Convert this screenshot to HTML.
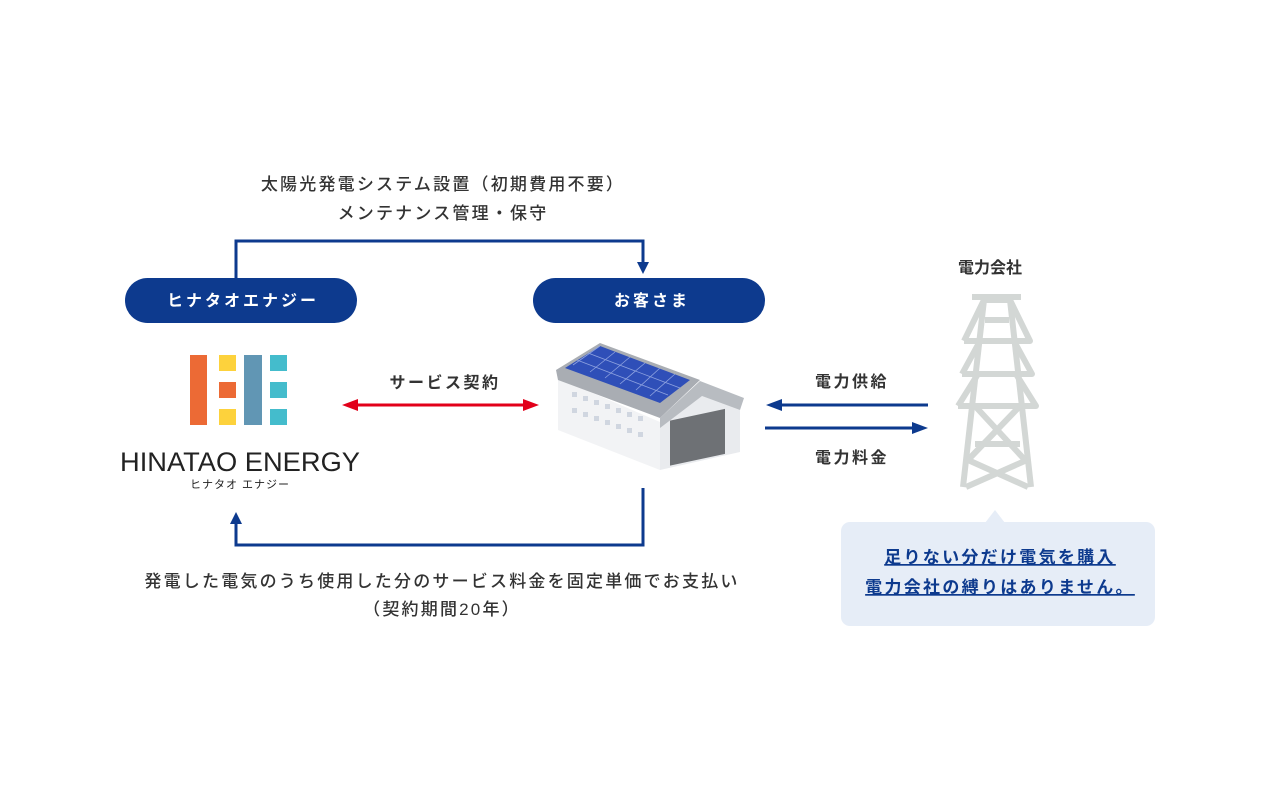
<!DOCTYPE html>
<html><head><meta charset="utf-8"><style>
body{margin:0;background:#fff;}
svg text{font-family:"Liberation Sans","Noto Sans CJK JP",sans-serif;}
</style></head><body>
<svg width="1280" height="800" viewBox="0 0 1280 800" xmlns="http://www.w3.org/2000/svg">
<rect width="1280" height="800" fill="#fff"/>
<g fill="#333" font-size="17" text-anchor="middle" font-weight="500" letter-spacing="2.2">
<text x="443" y="190">太陽光発電システム設置（初期費用不要）</text>
<text x="443" y="219">メンテナンス管理・保守</text>
<text x="442" y="587">発電した電気のうち使用した分のサービス料金を固定単価でお支払い</text>
<text x="442" y="615">（契約期間20年）</text>
</g>
<g fill="none" stroke="#0d3a8e" stroke-width="3">
<polyline points="236,278 236,241 643,241 643,262"/>
<polyline points="643,488 643,545 236,545 236,522"/>
<line x1="928" y1="405" x2="780" y2="405"/>
<line x1="765" y1="428" x2="914" y2="428"/>
</g>
<g fill="#0d3a8e">
<polygon points="637,262 649,262 643,274"/>
<polygon points="230,524 242,524 236,512"/>
<polygon points="766,405 782,399 782,411"/>
<polygon points="928,428 912,422 912,434"/>
</g>
<line x1="355" y1="405" x2="526" y2="405" stroke="#e2001a" stroke-width="3"/>
<polygon points="342,405 358,399 358,411" fill="#e2001a"/>
<polygon points="539,405 523,399 523,411" fill="#e2001a"/>
<rect x="125" y="278" width="232" height="45" rx="22.5" fill="#0d3a8e"/>
<rect x="533" y="278" width="232" height="45" rx="22.5" fill="#0d3a8e"/>
<g fill="#fff" font-size="16" font-weight="bold" text-anchor="middle" letter-spacing="3">
<text x="243" y="306">ヒナタオエナジー</text>
<text x="652" y="306">お客さま</text>
</g>
<g fill="#333" font-size="16" font-weight="bold" text-anchor="middle" letter-spacing="2.5">
<text x="445" y="388">サービス契約</text>
<text x="852" y="387">電力供給</text>
<text x="852" y="463">電力料金</text>
</g>
<text x="990" y="273" fill="#333" font-size="16" font-weight="bold" text-anchor="middle">電力会社</text>
<!-- logo -->
<rect x="190" y="355" width="17" height="70" fill="#ec6a35"/>
<rect x="219" y="355" width="17" height="16" fill="#fdd23c"/>
<rect x="219" y="382" width="17" height="16" fill="#ec6a35"/>
<rect x="219" y="409" width="17" height="16" fill="#fdd23c"/>
<rect x="244" y="355" width="18" height="70" fill="#6196b4"/>
<rect x="270" y="355" width="17" height="16" fill="#44bccc"/>
<rect x="270" y="382" width="17" height="16" fill="#44bccc"/>
<rect x="270" y="409" width="17" height="16" fill="#44bccc"/>
<text x="240" y="471" font-size="27" text-anchor="middle" fill="#222" font-weight="300" textLength="240" lengthAdjust="spacingAndGlyphs">HINATAO ENERGY</text>
<text x="240" y="488" font-size="11" text-anchor="middle" fill="#222" letter-spacing="1">ヒナタオ エナジー</text>
<!-- building -->
<g>
<polygon points="558,378 660,422 660,470 558,430" fill="#f2f3f5"/>
<polygon points="660,422 702,396 740,410 740,452 660,470" fill="#e9ebee"/>
<polygon points="556,370 600,343 700,380 660,418 558,380" fill="#a9adb3"/>
<polygon points="565,368 600,346 690,380 660,403" fill="#2f4fb8"/>
<g stroke="#8fa3e0" stroke-width="0.8">
<line x1="577" y1="360" x2="668" y2="395"/><line x1="588" y1="353" x2="680" y2="388"/>
<line x1="600" y1="346" x2="573" y2="365"/><line x1="615" y1="352" x2="590" y2="372"/>
<line x1="630" y1="357" x2="605" y2="378"/><line x1="645" y1="363" x2="620" y2="384"/>
<line x1="660" y1="368" x2="636" y2="390"/><line x1="675" y1="374" x2="650" y2="396"/>
</g>
<polygon points="660,418 700,381 744,398 740,410 702,396 660,428" fill="#b8bcc1"/>
<rect x="670" y="420" width="55" height="45" fill="#6e7175" transform="skewY(-12) translate(0,143)"/>
<g fill="#d0d6e0">
<rect x="572" y="392" width="5" height="5"/><rect x="583" y="396" width="5" height="5"/><rect x="594" y="400" width="5" height="5"/><rect x="605" y="404" width="5" height="5"/><rect x="616" y="408" width="5" height="5"/><rect x="627" y="412" width="5" height="5"/><rect x="638" y="416" width="5" height="5"/>
<rect x="572" y="408" width="5" height="5"/><rect x="583" y="412" width="5" height="5"/><rect x="594" y="416" width="5" height="5"/><rect x="605" y="420" width="5" height="5"/><rect x="616" y="424" width="5" height="5"/><rect x="627" y="428" width="5" height="5"/><rect x="638" y="432" width="5" height="5"/>
</g>
</g>
<!-- tower -->
<g fill="none" stroke="#d3d7d5" stroke-width="6" stroke-linejoin="round">
<polyline points="972,297 1021,297"/>
<polyline points="964,341 1030,341 1010,300 984,300 964,341"/>
<polyline points="962,374 1032,374 1014,341 980,341 962,374"/>
<polyline points="958,406 1036,406 1016,374 978,374 958,406"/>
<line x1="984" y1="300" x2="963" y2="487"/><line x1="1010" y1="300" x2="1031" y2="487"/>
<line x1="985" y1="320" x2="1009" y2="320"/>
<line x1="975" y1="444" x2="1020" y2="444"/>
<line x1="975" y1="406" x2="1025" y2="460"/><line x1="1020" y1="406" x2="968" y2="460"/>
<line x1="968" y1="460" x2="1028" y2="487"/><line x1="1027" y1="460" x2="966" y2="487"/>
</g>
<!-- callout -->
<rect x="841" y="522" width="314" height="104" rx="9" fill="#e6edf7"/>
<polygon points="985,523 1005,523 995,510" fill="#e6edf7"/>
<g fill="#0d3a8e" font-size="17" font-weight="bold" text-anchor="middle" text-decoration="underline" letter-spacing="2.3">
<text x="1000" y="563">足りない分だけ電気を購入</text>
<text x="1000" y="593">電力会社の縛りはありません。</text>
</g>
</svg>
</body></html>
